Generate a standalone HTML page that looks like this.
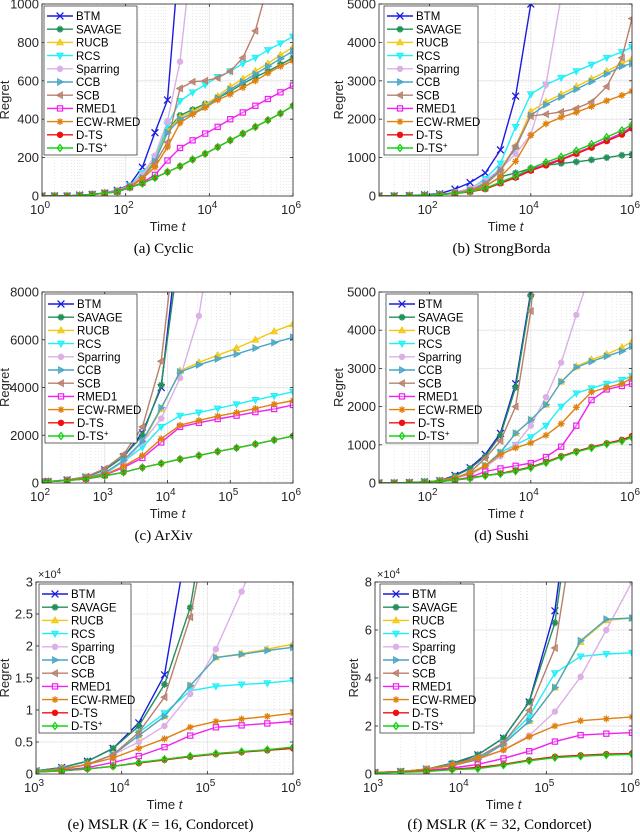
<!DOCTYPE html>
<html><head><meta charset="utf-8">
<style>
html,body{margin:0;padding:0;background:#fff;}
svg{display:block;font-family:"Liberation Sans",sans-serif;}
.cap{font-family:"Liberation Serif",serif;font-size:15px;fill:#000;}
</style></head>
<body>
<svg id="fig" width="640" height="835" viewBox="0 0 640 835" xmlns="http://www.w3.org/2000/svg"></svg>
<script>
// ---- shared legend / series names ----
const seriesNames = ["BTM","SAVAGE","RUCB","RCS","Sparring","CCB","SCB","RMED1","ECW-RMED","D-TS","D-TS+"];

// ---- (a) Cyclic ----
const a_x = [0,0.3,0.6,0.9,1.2,1.5,1.8,2.1,2.4,2.7,3,3.3,3.6,3.9,4.2,4.5,4.8,5.1,5.4,5.7,6];
const a_BTM = [0,0,0,5,8,15,30,60,150,330,500,1300];
const a_SAVAGE = [0,0,0,3,8,15,25,50,100,190,345,420,450,480,510,545,585,620,650,685,720];
const a_RUCB = [0,0,0,3,8,15,25,50,100,190,340,410,440,475,520,570,610,650,690,735,775];
const a_RCS = [0,0,0,3,8,15,25,55,120,200,370,495,540,580,620,650,690,720,760,795,830];
const a_Sparring = [0,0,0,3,8,15,28,55,110,210,390,700,1300];
const a_CCB = [0,0,0,3,8,15,25,50,95,180,330,400,430,465,510,555,595,635,675,715,755];
const a_SCB = [0,0,0,3,8,15,25,50,95,170,280,560,595,600,615,650,720,860,1100];
const a_RMED1 = [0,0,0,3,8,15,22,45,70,110,185,250,290,325,360,400,435,470,505,540,575];
const a_ECW = [0,0,0,3,8,15,22,45,90,150,255,380,425,460,500,530,565,600,640,675,705];
const a_DTS = [0,0,0,3,8,15,22,45,65,95,125,155,190,220,255,290,325,360,395,430,470];
const a_DTSp = [0,0,0,3,8,15,22,45,65,95,125,155,190,220,255,290,325,360,395,430,470];
const a_yticks = [0,200,400,600,800,1000];
const a_xticks = [0,2,4,6];

// ---- (b) StrongBorda ----
const b_x = [1,1.3,1.6,1.9,2.2,2.5,2.8,3.1,3.4,3.7,4,4.3,4.6,4.9,5.2,5.5,5.8,6];
const b_BTM = [0,0,10,30,60,180,350,600,1200,2600,5000,9000];
const b_SAVAGE = [0,0,10,20,40,80,150,250,500,600,720,800,850,890,940,1000,1060,1090];
const b_RUCB = [0,0,10,20,40,80,150,350,700,1300,2200,2450,2650,2850,3050,3250,3450,3570];
const b_RCS = [0,0,10,20,40,80,180,450,850,1800,2650,2900,3080,3250,3420,3600,3750,3880];
const b_Sparring = [0,0,10,20,40,100,200,400,700,1100,1600,2900,5200];
const b_CCB = [0,0,10,20,40,80,150,340,680,1250,2100,2380,2580,2780,2980,3180,3380,3450];
const b_SCB = [0,0,10,20,40,80,150,300,650,1300,2080,2130,2190,2280,2450,2850,3600,4620];
const b_RMED1 = [0,0,10,20,40,70,120,200,350,500,680,830,960,1120,1290,1460,1640,1800];
const b_ECW = [0,0,10,20,40,70,130,250,500,900,1580,1880,2050,2180,2330,2480,2620,2730];
const b_DTS = [0,0,10,20,40,65,110,180,330,480,660,800,940,1100,1260,1430,1600,1760];
const b_DTSp = [0,0,10,20,40,70,120,200,360,520,720,880,1020,1180,1350,1530,1710,1860];
const b_yticks = [0,1000,2000,3000,4000,5000];
const b_xticks = [2,4,6];

// ---- (c) ArXiv ----
const c_x = [2,2.1,2.4,2.7,3,3.3,3.6,3.9,4.2,4.5,4.8,5.1,5.4,5.7,6];
const c_BTM = [50,60,130,250,550,1100,2100,4000,11000];
const c_SAVAGE = [50,60,130,250,550,1100,2000,4100,10000];
const c_RUCB = [50,60,120,220,420,900,1700,3100,4700,5050,5350,5650,6000,6350,6650];
const c_RCS = [50,60,120,200,380,900,1500,2350,2820,2950,3120,3300,3480,3650,3820];
const c_Sparring = [50,60,120,220,420,900,1700,2700,4400,7000,12000];
const c_CCB = [50,60,120,220,420,950,1750,3150,4650,4950,5200,5400,5650,5880,6100];
const c_SCB = [50,60,130,260,600,1200,2350,5100,12000];
const c_RMED1 = [50,60,110,180,330,650,1050,1700,2350,2520,2680,2820,2970,3100,3270];
const c_ECW = [50,60,110,200,350,700,1150,1850,2420,2620,2800,2950,3120,3300,3450];
const c_DTS = [50,60,100,170,300,450,650,820,1000,1150,1320,1470,1630,1800,1970];
const c_DTSp = [50,60,100,170,300,450,650,820,1000,1150,1320,1470,1630,1800,1970];
const c_yticks = [0,2000,4000,6000,8000];
const c_xticks = [2,3,4,5,6];

// ---- (d) Sushi ----
const d_x = [1,1.3,1.6,1.9,2.2,2.5,2.8,3.1,3.4,3.7,4,4.3,4.6,4.9,5.2,5.5,5.8,6];
const d_BTM = [0,0,10,30,60,200,400,750,1300,2600,5000,9000];
const d_SAVAGE = [0,0,10,30,60,180,380,700,1250,2500,4900,9000];
const d_RUCB = [0,0,10,30,60,130,250,450,800,1300,1650,2050,2650,3050,3230,3370,3550,3700];
const d_RCS = [0,0,10,30,60,130,250,450,800,1000,1200,1500,2000,2350,2480,2600,2700,2800];
const d_Sparring = [0,0,10,30,60,120,230,420,700,1000,1500,2250,3150,4400,5600];
const d_CCB = [0,0,10,30,60,130,250,450,800,1300,1650,2050,2650,3030,3180,3320,3450,3580];
const d_SCB = [0,0,10,30,60,130,280,650,1100,2000,4500,9000];
const d_RMED1 = [0,0,10,20,40,80,150,300,380,450,520,680,950,1500,2170,2450,2540,2600];
const d_ECW = [0,0,10,30,60,130,250,450,750,920,1050,1250,1550,1980,2380,2500,2600,2750];
const d_DTS = [0,0,10,20,40,80,130,200,250,330,420,550,700,830,940,1040,1130,1230];
const d_DTSp = [0,0,10,20,40,75,120,190,240,310,400,530,680,810,920,1020,1100,1190];
const d_yticks = [0,1000,2000,3000,4000,5000];
const d_xticks = [2,4,6];

// ---- (e) MSLR K=16 (x1e4) ----
const e_x = [3,3.3,3.6,3.9,4.2,4.5,4.8,5.1,5.4,5.7,6];
const e_BTM = [0.05,0.1,0.2,0.4,0.8,1.55,3.9];
const e_SAVAGE = [0.05,0.1,0.2,0.4,0.75,1.4,2.6,5];
const e_RUCB = [0.04,0.08,0.15,0.3,0.6,0.9,1.38,1.82,1.88,1.95,2.03];
const e_RCS = [0.04,0.08,0.15,0.3,0.65,0.95,1.3,1.37,1.4,1.42,1.46];
const e_Sparring = [0.04,0.08,0.15,0.3,0.5,0.75,1.25,1.95,2.85,3.8];
const e_CCB = [0.04,0.08,0.15,0.3,0.6,0.9,1.38,1.82,1.87,1.93,1.98];
const e_SCB = [0.04,0.08,0.15,0.3,0.65,1.2,2.45,4.5];
const e_RMED1 = [0.03,0.06,0.1,0.18,0.28,0.42,0.6,0.73,0.76,0.79,0.82];
const e_ECW = [0.03,0.07,0.15,0.25,0.4,0.55,0.73,0.82,0.86,0.9,0.95];
const e_DTS = [0.03,0.05,0.08,0.12,0.17,0.22,0.27,0.31,0.34,0.37,0.40];
const e_DTSp = [0.03,0.05,0.08,0.12,0.18,0.23,0.28,0.32,0.35,0.38,0.42];
const e_yticks = [0,0.5,1,1.5,2,2.5,3];
const e_xticks = [3,4,5,6];

// ---- (f) MSLR K=32 (x1e4) ----
const f_x = [3,3.3,3.6,3.9,4.2,4.5,4.8,5.1,5.4,5.7,6];
const f_BTM = [0.06,0.1,0.2,0.4,0.8,1.5,3.0,6.8,15];
const f_SAVAGE = [0.06,0.1,0.2,0.45,0.8,1.5,3.0,6.3,14];
const f_RUCB = [0.06,0.1,0.2,0.35,0.6,1.25,2.2,3.6,5.5,6.4,6.5];
const f_RCS = [0.06,0.1,0.2,0.35,0.65,1.3,2.4,4.2,4.9,5.0,5.05];
const f_Sparring = [0.06,0.1,0.2,0.35,0.6,1.0,1.6,2.6,4.05,6.0,8.0];
const f_CCB = [0.06,0.1,0.2,0.35,0.6,1.25,2.2,3.6,5.55,6.45,6.5];
const f_SCB = [0.06,0.1,0.2,0.4,0.7,1.3,2.65,5.25,12];
const f_RMED1 = [0.05,0.08,0.15,0.25,0.4,0.65,0.95,1.35,1.62,1.68,1.72];
const f_ECW = [0.06,0.1,0.2,0.35,0.65,1.0,1.55,2.0,2.22,2.3,2.38];
const f_DTS = [0.05,0.08,0.12,0.2,0.27,0.4,0.58,0.72,0.78,0.83,0.86];
const f_DTSp = [0.04,0.07,0.1,0.18,0.22,0.37,0.55,0.68,0.74,0.79,0.82];
const f_yticks = [0,2,4,6,8];
const f_xticks = [3,4,5,6];

const NS = "http://www.w3.org/2000/svg";
const svg = document.getElementById('fig');
const colors = ["#1a1ae0","#23905a","#f2c80f","#1ef0f8","#dcb0e6","#4aa6c8","#b8806c","#f020f0","#e0800e","#f01010","#18d018"];
const markers = ["x","star","tri-up","tri-down","hex","tri-right","tri-left","square","aster","circle","diamond"];

function mk(tag, attrs, parent){
  const e = document.createElementNS(NS, tag);
  for (const k in attrs) e.setAttribute(k, attrs[k]);
  (parent||svg).appendChild(e);
  return e;
}
function marker(g, type, x, y, col){
  const s = 3.4;
  let e;
  if (type==="x"){
    e = mk('path',{d:`M${x-s},${y-s}L${x+s},${y+s}M${x-s},${y+s}L${x+s},${y-s}`,stroke:col,'stroke-width':1.3,fill:'none'},g);
  } else if (type==="star"||type==="aster"){
    let d="";
    const n = type==="star"?5:4;
    for(let k=0;k<n;k++){const an=Math.PI/2 + k*Math.PI/n;d+=`M${x-s*Math.cos(an)},${y-s*Math.sin(an)}L${x+s*Math.cos(an)},${y+s*Math.sin(an)}`;}
    e = mk('path',{d:d,stroke:col,'stroke-width':1.3,fill:'none'},g);
  } else if (type==="hex"){
    e = mk('circle',{cx:x,cy:y,r:2.8,fill:col,stroke:col,'stroke-width':0.8},g);
  } else if (type==="square"){
    e = mk('rect',{x:x-2.6,y:y-2.6,width:5.2,height:5.2,fill:'#fff','fill-opacity':0.3,stroke:col,'stroke-width':1.2},g);
  } else if (type==="circle"){
    e = mk('circle',{cx:x,cy:y,r:2.8,fill:col,stroke:col,'stroke-width':0.8},g);
  } else if (type==="diamond"){
    e = mk('path',{d:`M${x},${y-3.4}L${x+2.6},${y}L${x},${y+3.4}L${x-2.6},${y}Z`,fill:'none',stroke:col,'stroke-width':1.3},g);
  } else {
    let p;
    if(type==="tri-up") p=[[x,y-3.4],[x+3.2,y+2.4],[x-3.2,y+2.4]];
    if(type==="tri-down") p=[[x,y+3.4],[x+3.2,y-2.4],[x-3.2,y-2.4]];
    if(type==="tri-right") p=[[x+3.4,y],[x-2.4,y-3.2],[x-2.4,y+3.2]];
    if(type==="tri-left") p=[[x-3.4,y],[x+2.4,y-3.2],[x+2.4,y+3.2]];
    e = mk('polygon',{points:p.map(q=>q.join(',')).join(' '),fill:col,'fill-opacity':0.75,stroke:col,'stroke-width':1},g);
  }
  return e;
}

function panel(id, cfg, xs, series, yticks, xticks){
  const {l,r,t,b,xmin,xmax,ymax} = cfg;
  const X = v => l + (v - xmin) / (xmax - xmin) * (r - l);
  const Y = v => b - v / ymax * (b - t);
  const g = mk('g',{});
  
  
  mk('rect',{x:l,y:t,width:r-l,height:b-t,fill:'#fff'},g);
  const mg = mk('g',{stroke:'#d8d8d8','stroke-width':0.6,'stroke-dasharray':'1,2'},g);
  
  
  for(let dcd=Math.floor(xmin); dcd<xmax; dcd++){
    for(let m=2;m<=9;m++){const lv=dcd+Math.log10(m); if(lv>xmin && lv<xmax) mk('line',{x1:X(lv),x2:X(lv),y1:t,y2:b},mg);}
  }
  const gg = mk('g',{stroke:'#e2e2e2','stroke-width':0.8},g);
  
  
  yticks.forEach(v=>mk('line',{x1:l,x2:r,y1:Y(v),y2:Y(v)},gg));
  xticks.forEach(v=>mk('line',{x1:X(v),x2:X(v),y1:t,y2:b},gg));
  const clipId = 'clip'+id;
  const cp = mk('clipPath',{id:clipId},g);
  mk('rect',{x:l,y:t,width:r-l,height:b-t},cp);
  const sg = mk('g',{'clip-path':`url(#${clipId})`},g);
  series.forEach((arr,si)=>{
    const s = mk('g',{},sg);
    
    
    const pts = arr.map((v,i)=>X(xs[i]).toFixed(1)+','+Y(v).toFixed(1)).join(' ');
    mk('polyline',{points:pts,fill:'none',stroke:colors[si],'stroke-width':1.4},s);
    arr.forEach((v,i)=>{ const mEl = marker(s, markers[si], X(xs[i]), Y(v), colors[si]);   });
  });
  mk('rect',{x:l,y:t,width:r-l,height:b-t,fill:'none',stroke:'#262626','stroke-width':0.8},g);
  const tg = mk('g',{fill:'#262626','font-size':'13px'},g);
  
  
  yticks.forEach(v=>{
    mk('line',{x1:l,x2:l+3,y1:Y(v),y2:Y(v),stroke:'#262626','stroke-width':0.8},tg);
    mk('line',{x1:r,x2:r-3,y1:Y(v),y2:Y(v),stroke:'#262626','stroke-width':0.8},tg);
    const tx = mk('text',{x:l-3,y:Y(v)+4.5,'text-anchor':'end'},tg);
    tx.textContent = String(v);
  });
  xticks.forEach(v=>{
    mk('line',{x1:X(v),x2:X(v),y1:b,y2:b-3,stroke:'#262626','stroke-width':0.8},tg);
    mk('line',{x1:X(v),x2:X(v),y1:t,y2:t+3,stroke:'#262626','stroke-width':0.8},tg);
    const tx = mk('text',{x:X(v)-2,y:b+18,'text-anchor':'middle'},tg);
    tx.innerHTML = '10<tspan dy="-6" font-size="10">'+v+'</tspan>';
  });
  const yl = mk('text',{x:cfg.ylx,y:(t+b)/2,'text-anchor':'middle','font-size':'13px',fill:'#262626',transform:`rotate(-90 ${cfg.ylx} ${(t+b)/2})`},g);
  
  
  yl.textContent='Regret';
  const xl = mk('text',{x:(l+r)/2,y:b+35,'text-anchor':'middle','font-size':'13px',fill:'#262626'},g);
  
  
  xl.innerHTML='Time <tspan font-style="italic">t</tspan>';
  const lg = mk('g',{},g);
  
  
  const lx = cfg.lx, ly = t+2;
  mk('rect',{x:lx,y:ly,width:cfg.lw,height:149,fill:'#fff',stroke:'#262626','stroke-width':0.7},lg);
  seriesNames.forEach((n,si)=>{
    const yy = ly+10+si*13.2;
    const le = mk('g',{},lg);
    
    
    mk('line',{x1:lx+3,x2:lx+29,y1:yy,y2:yy,stroke:colors[si],'stroke-width':1.4},le);
    marker(le, markers[si], lx+16, yy, colors[si]);
    const tx = mk('text',{x:lx+32,y:yy+4.2,'font-size':'11.5px',fill:'#000'},le);
    if(n==='D-TS+') tx.innerHTML='D-TS<tspan dy="-4" font-size="8">+</tspan>'; else tx.textContent=n;
  });
  if(cfg.mult){
    const m = mk('text',{x:l+2,y:t-4,'font-size':'11px',fill:'#262626'},g);
    
    
    m.innerHTML='×10<tspan dy="-4" font-size="8">4</tspan>';
  }
  const cap = mk('text',{x:(l+r)/2-4,y:cfg.capy,'text-anchor':'middle','class':'cap'},g);
  
  
  cap.innerHTML = cfg.cap;
}

panel('a',{l:42,r:293,t:4,b:196,xmin:0,xmax:6,ymax:1000,ylx:9,lx:44,lw:93,capy:253,cap:'(a) Cyclic'},a_x,
  [a_BTM,a_SAVAGE,a_RUCB,a_RCS,a_Sparring,a_CCB,a_SCB,a_RMED1,a_ECW,a_DTS,a_DTSp],a_yticks,a_xticks);
panel('b',{l:379,r:632,t:4,b:196,xmin:1,xmax:6,ymax:5000,ylx:343,lx:384,lw:94,capy:253,cap:'(b) StrongBorda'},b_x,
  [b_BTM,b_SAVAGE,b_RUCB,b_RCS,b_Sparring,b_CCB,b_SCB,b_RMED1,b_ECW,b_DTS,b_DTSp],b_yticks,b_xticks);
panel('c',{l:42,r:293,t:292,b:483,xmin:2,xmax:6,ymax:8000,ylx:9,lx:45,lw:92,capy:540,cap:'(c) ArXiv'},c_x,
  [c_BTM,c_SAVAGE,c_RUCB,c_RCS,c_Sparring,c_CCB,c_SCB,c_RMED1,c_ECW,c_DTS,c_DTSp],c_yticks,c_xticks);
panel('d',{l:379,r:632,t:292,b:483,xmin:1,xmax:6,ymax:5000,ylx:343,lx:386,lw:92,capy:540,cap:'(d) Sushi'},d_x,
  [d_BTM,d_SAVAGE,d_RUCB,d_RCS,d_Sparring,d_CCB,d_SCB,d_RMED1,d_ECW,d_DTS,d_DTSp],d_yticks,d_xticks);
panel('e',{l:36,r:293,t:582,b:774,xmin:3,xmax:6,ymax:3,ylx:9,lx:39,lw:92,capy:829,mult:true,cap:'(e) MSLR (<tspan font-style="italic">K</tspan> = 16, Condorcet)'},e_x,
  [e_BTM,e_SAVAGE,e_RUCB,e_RCS,e_Sparring,e_CCB,e_SCB,e_RMED1,e_ECW,e_DTS,e_DTSp],e_yticks,e_xticks);
panel('f',{l:375,r:632,t:582,b:774,xmin:3,xmax:6,ymax:8,ylx:358,lx:380,lw:94,capy:829,mult:true,cap:'(f) MSLR (<tspan font-style="italic">K</tspan> = 32, Condorcet)'},f_x,
  [f_BTM,f_SAVAGE,f_RUCB,f_RCS,f_Sparring,f_CCB,f_SCB,f_RMED1,f_ECW,f_DTS,f_DTSp],f_yticks,f_xticks);
</script>
</body></html>
